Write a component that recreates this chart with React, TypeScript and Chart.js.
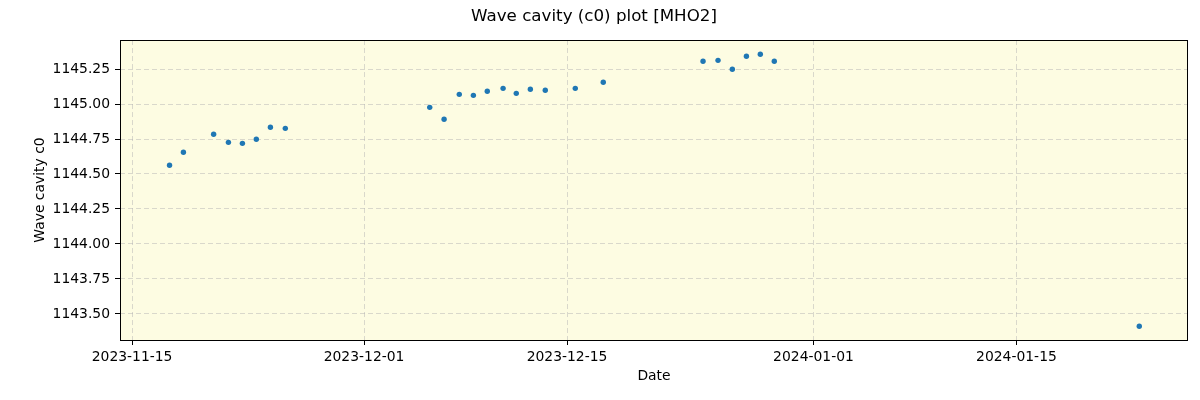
import React, { useEffect, useRef } from "react";
import { Chart, registerables } from "chart.js";

Chart.register(...registerables);

const TITLE = "Wave cavity (c0) plot [MHO2]";
const X_LABEL = "Date";
const Y_LABEL = "Wave cavity c0";

const dates: string[] = [
  "2023-11-17T14:00:00Z", "2023-11-18T13:00:00Z", "2023-11-20T15:00:00Z", "2023-11-21T15:30:00Z",
  "2023-11-22T14:40:00Z", "2023-11-23T13:40:00Z", "2023-11-24T13:00:00Z", "2023-11-25T13:40:00Z",
  "2023-12-05T12:45:00Z", "2023-12-06T12:30:00Z", "2023-12-07T13:40:00Z", "2023-12-08T13:00:00Z",
  "2023-12-09T12:00:00Z", "2023-12-10T14:10:00Z", "2023-12-11T12:00:00Z", "2023-12-12T11:20:00Z",
  "2023-12-13T12:00:00Z", "2023-12-15T13:40:00Z", "2023-12-17T12:00:00Z", "2023-12-24T09:10:00Z",
  "2023-12-25T10:00:00Z", "2023-12-26T09:40:00Z", "2023-12-27T09:00:00Z", "2023-12-28T08:00:00Z",
  "2023-12-29T07:10:00Z", "2024-01-23T11:20:00Z",
];

const values: number[] = [
  1144.562, 1144.655, 1144.784, 1144.726,
  1144.719, 1144.748, 1144.834, 1144.826,
  1144.976, 1144.891, 1145.069, 1145.062,
  1145.091, 1145.112, 1145.076, 1145.105,
  1145.098, 1145.112, 1145.155, 1145.305,
  1145.312, 1145.248, 1145.341, 1145.355,
  1145.305, 1143.412,
];

const xTickDates: string[] = ["2023-11-15", "2023-12-01", "2023-12-15", "2024-01-01", "2024-01-15"];
const yTickValues: number[] = [1143.5, 1143.75, 1144.0, 1144.25, 1144.5, 1144.75, 1145.0, 1145.25];

const X_MIN = "2023-11-14T04:00:00Z";
const X_MAX = "2024-01-26T20:00:00Z";
const Y_MIN = 1143.314;
const Y_MAX = 1145.457;

const FONT = "'DejaVu Sans', sans-serif";

const fmtDate = (v: number) => {
  const d = new Date(v);
  const p = (n: number) => String(n).padStart(2, "0");
  return `${d.getUTCFullYear()}-${p(d.getUTCMonth() + 1)}-${p(d.getUTCDate())}`;
};

const frameAndBg = {
  id: "frameAndBg",
  beforeDraw(chart: any) {
    const { ctx, chartArea: a } = chart;
    ctx.save();
    ctx.fillStyle = "#fdfce2";
    ctx.fillRect(a.left, a.top, a.right - a.left, a.bottom - a.top);
    ctx.restore();
  },
  afterDraw(chart: any) {
    const { ctx, chartArea: a } = chart;
    ctx.save();
    ctx.strokeStyle = "#000";
    ctx.lineWidth = 1;
    ctx.strokeRect(Math.round(a.left) + 0.5, Math.round(a.top) + 0.5, Math.round(a.right - a.left) - 1, Math.round(a.bottom - a.top));
    ctx.restore();
  },
};

export default function App() {
  const ref = useRef<HTMLCanvasElement>(null);
  useEffect(() => {
    if (!ref.current) return;
    const pts = dates.map((d, i) => ({ x: Date.parse(d), y: values[i] }));
    const chart = new Chart(ref.current, {
      type: "scatter",
      data: {
        datasets: [
          {
            data: pts,
            backgroundColor: "#1f77b4",
            borderWidth: 0,
            pointRadius: 2.7,
            pointHoverRadius: 2.7,
          },
        ],
      },
      plugins: [frameAndBg],
      options: {
        responsive: false,
        animation: false,
        layout: { padding: { top: 0, right: 12, bottom: 0, left: 0 } },
        plugins: {
          legend: { display: false },
          tooltip: { enabled: false },
          title: {
            display: true,
            text: TITLE,
            color: "#000",
            font: { family: FONT, size: 16.7, weight: "normal" },
            padding: { top: 7, bottom: 13 },
          },
        },
        scales: {
          x: {
            type: "linear",
            min: Date.parse(X_MIN),
            max: Date.parse(X_MAX),
            afterBuildTicks: (s: any) => {
              s.ticks = xTickDates.map((d) => ({ value: Date.parse(d + "T00:00:00Z") }));
            },
            afterFit: (s: any) => {
              s.height = 60;
            },
            ticks: {
              autoSkip: false,
              maxRotation: 0,
              color: "#000",
              padding: 4,
              font: { family: FONT, size: 13.9 },
              callback: (v: any) => fmtDate(Number(v)),
            },
            grid: {
              color: "rgba(176,176,176,0.6)",
              lineWidth: 0.8,
              tickLength: 5,
              tickColor: "#000",
              tickWidth: 1,
            },
            border: { display: false, dash: [5, 3] },
            title: {
              display: true,
              text: X_LABEL,
              color: "#000",
              font: { family: FONT, size: 13.9 },
              padding: { top: 0, bottom: 15 },
            },
          },
          y: {
            min: Y_MIN,
            max: Y_MAX,
            afterBuildTicks: (s: any) => {
              s.ticks = yTickValues.map((v) => ({ value: v }));
            },
            afterFit: (s: any) => {
              s.width = 120;
            },
            ticks: {
              color: "#000",
              padding: 5,
              font: { family: FONT, size: 13.9 },
              callback: (v: any) => Number(v).toFixed(2),
            },
            grid: {
              color: "rgba(176,176,176,0.6)",
              lineWidth: 0.8,
              tickLength: 5,
              tickColor: "#000",
              tickWidth: 1,
            },
            border: { display: false, dash: [5, 3] },
            title: {
              display: true,
              text: Y_LABEL,
              color: "#000",
              font: { family: FONT, size: 13.9 },
              padding: { top: 32, bottom: 0 },
            },
          },
        },
      },
    });
    return () => chart.destroy();
  }, []);
  return (
    <div style={{ position: "fixed", left: 0, top: 0, width: 1200, height: 400, background: "#fff" }}>
      <canvas ref={ref} width={1200} height={400} />
    </div>
  );
}
